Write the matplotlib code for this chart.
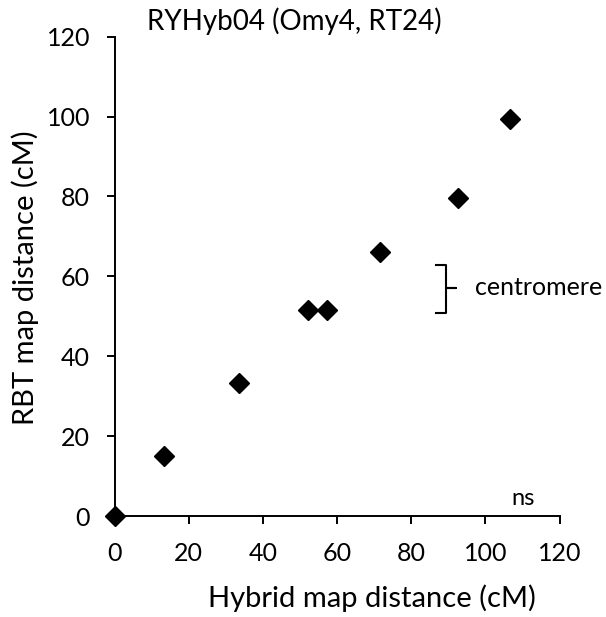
import matplotlib
matplotlib.use("Agg")
import matplotlib.pyplot as plt

plt.rcParams['font.family'] = ['Lato', 'DejaVu Sans']

hybrid = [0, 13.4, 33.6, 52.1, 57.4, 71.7, 92.5, 106.7]
rbt = [0, 15.0, 33.2, 51.5, 51.5, 66.1, 79.7, 99.3]
ticks = [0, 20, 40, 60, 80, 100, 120]

# centromere bracket (data units)
br_left, br_mid, br_tip = 86.6, 89.3, 92.2
br_top, br_center, br_bottom = 62.9, 57.1, 50.8

fig = plt.figure(figsize=(6.06, 6.17), dpi=100)
ax = fig.add_axes([114.5 / 606, 101 / 617, 445 / 606, 479.3 / 617])

ax.plot(hybrid, rbt, linestyle='none', marker='D', markersize=10.5,
        color='black', clip_on=False, zorder=3)

ax.set_xlim(0, 120)
ax.set_ylim(0, 120)
ax.set_xticks(ticks)
ax.set_yticks(ticks)
ax.spines['top'].set_visible(False)
ax.spines['right'].set_visible(False)
ax.spines['left'].set_linewidth(1.4)
ax.spines['bottom'].set_linewidth(1.4)
ax.tick_params(axis='both', direction='out', length=5.5, width=1.4,
               labelsize=18)
ax.tick_params(axis='x', pad=13)
ax.tick_params(axis='y', pad=12)

# bracket
ax.plot([br_left, br_mid, br_mid, br_tip, br_mid, br_mid, br_left],
        [br_top, br_top, br_center, br_center, br_center, br_bottom, br_bottom],
        color='black', linewidth=1.5, clip_on=False)
ax.text(97.2, br_center, 'centromere', fontsize=18, va='center', ha='left')
ax.text(107.1, 2.8, 'ns', fontsize=17, va='baseline', ha='left')

fig.text(294 / 606, (617 - 30) / 617, 'RYHyb04 (Omy4, RT24)',
         fontsize=20, ha='center', va='baseline')
fig.text(372 / 606, (617 - 606.7) / 617, 'Hybrid map distance (cM)',
         fontsize=21, ha='center', va='baseline')
fig.text(25 / 606, (617 - 278) / 617, 'RBT map distance (cM)',
         fontsize=21, ha='center', va='center', rotation=90)

fig.savefig('out.png', dpi=100)
